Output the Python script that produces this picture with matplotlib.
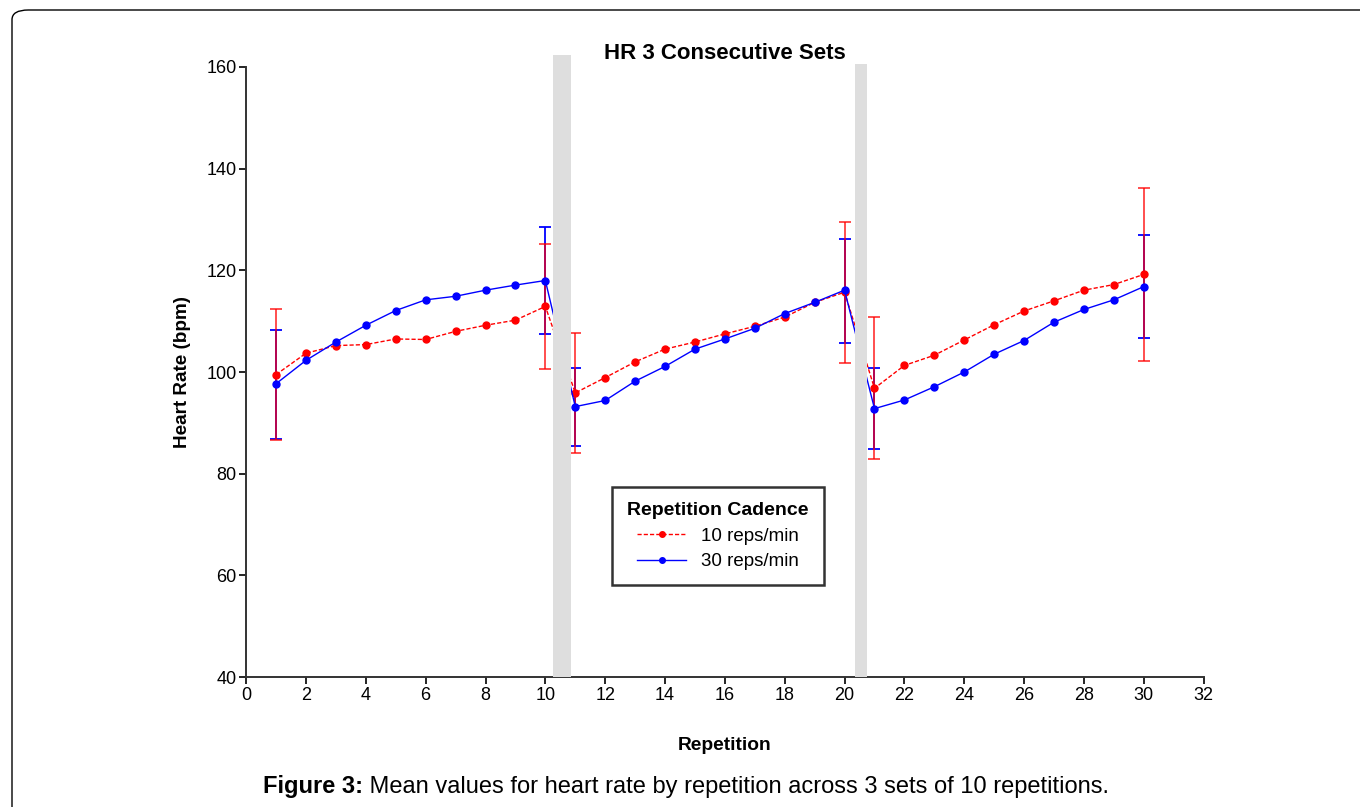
import numpy as np
import matplotlib.pyplot as plt
from matplotlib.patches import FancyBboxPatch

plt.rcParams['font.family'] = ['Liberation Sans', 'DejaVu Sans']

# Data
reps = np.arange(1, 31)
hr_10 = [99.5, 103.7, 105.2, 105.4, 106.5, 106.4, 108.0, 109.2, 110.2, 112.9,
         95.9, 98.9, 102.0, 104.5, 105.9, 107.5, 109.0, 110.8, 113.7, 115.7,
         96.8, 101.3, 103.3, 106.3, 109.3, 112.0, 114.0, 116.1, 117.2, 119.2]
hr_30 = [97.7, 102.3, 105.9, 109.2, 112.1, 114.2, 114.9, 116.1, 117.1, 118.0,
         93.2, 94.4, 98.2, 101.1, 104.5, 106.5, 108.6, 111.5, 113.7, 116.1,
         92.8, 94.5, 97.1, 100.0, 103.5, 106.2, 109.8, 112.3, 114.2, 116.8]

# error bars only at first/last rep of each set
err_x = [1, 10, 11, 20, 21, 30]
err_10_hi = [112.4, 125.1, 107.7, 129.5, 110.8, 136.2]
err_10_lo = [86.6, 100.6, 84.1, 101.8, 82.9, 102.1]
err_30_hi = [108.3, 128.6, 100.8, 126.2, 100.8, 127.0]
err_30_lo = [86.8, 107.5, 85.5, 105.8, 84.8, 106.6]

# rest periods between sets (grey bands)
rest_left = [10.26, 20.35]
rest_right = [10.85, 20.75]
rest_top = [162.4, 160.6]

fig = plt.figure(figsize=(13.6, 8.07), dpi=100)
ax = fig.add_axes([0.181, 0.161, 0.704, 0.756])

# outer rounded frame
frame = FancyBboxPatch((12 / 1360, -0.05), 1.2, 1 - 10 / 807 + 0.05,
                       boxstyle='round,pad=0,rounding_size=0.012',
                       transform=fig.transFigure, fill=False,
                       edgecolor='black', linewidth=1.0)
fig.patches.append(frame)

idx = [x - 1 for x in err_x]

def yerr(vals, hi, lo):
    v = np.array(vals)[idx]
    return [v - np.array(lo), np.array(hi) - v]

ax.errorbar(err_x, np.array(hr_30)[idx], yerr=yerr(hr_30, err_30_hi, err_30_lo),
            fmt='none', ecolor='blue', elinewidth=1.3, capsize=4,
            capthick=1.3, zorder=2)
ax.errorbar(err_x, np.array(hr_10)[idx], yerr=yerr(hr_10, err_10_hi, err_10_lo),
            fmt='none', ecolor='red', elinewidth=1.3, capsize=4,
            capthick=1.3, alpha=0.75, zorder=3)

ax.plot(reps, hr_10, color='red', linestyle=(0, (3, 1.5)), linewidth=1.0,
        marker='o', markersize=5, label='10 reps/min', zorder=4)
ax.plot(reps, hr_30, color='blue', linestyle='-', linewidth=1.0,
        marker='o', markersize=5, label='30 reps/min', zorder=4)

for l, r, t in zip(rest_left, rest_right, rest_top):
    ax.bar(l, t - 40, width=r - l, bottom=40, align='edge',
           color='#dedede', clip_on=False, zorder=5)

ax.set_xlim(0, 32)
ax.set_ylim(40, 160)
ax.set_xticks(np.arange(0, 33, 2))
ax.set_yticks(np.arange(40, 161, 20))
ax.tick_params(direction='out', length=5, width=1.2, labelsize=13,
               colors='black', pad=2)
for s in ['top', 'right']:
    ax.spines[s].set_visible(False)
for s in ['left', 'bottom']:
    ax.spines[s].set_linewidth(1.4)
    ax.spines[s].set_color('#333333')

ax.set_title('HR 3 Consecutive Sets', fontsize=16, fontweight='bold', pad=6)
ax.set_xlabel('Repetition', fontsize=13.8, fontweight='bold', labelpad=24)
ax.set_ylabel('Heart Rate (bpm)', fontsize=13.6, fontweight='bold', labelpad=11)

leg = ax.legend(title='Repetition Cadence', loc='center',
                bbox_to_anchor=(0.493, 0.231), fontsize=13.5,
                title_fontproperties={'weight': 'bold', 'size': 14},
                frameon=True, fancybox=False, edgecolor='black',
                handlelength=2.6, borderpad=0.8, labelspacing=0.45)
leg.get_frame().set_linewidth(1.8)
for h in leg.legend_handles:
    h.set_markersize(4)

# caption: bold prefix then normal text
fig.canvas.draw()
renderer = fig.canvas.get_renderer()
cap_x = 263 / 1360
cap_y = 1 - 787 / 807
t1 = fig.text(cap_x, cap_y, 'Figure 3:', fontsize=17, fontweight='bold',
              ha='left', va='center')
bb = t1.get_window_extent(renderer=renderer)
x2 = bb.x1 / fig.bbox.width
fig.text(x2, cap_y, ' Mean values for heart rate by repetition across 3 sets of 10 repetitions.',
         fontsize=17, ha='left', va='center')

fig.savefig('out.png', dpi=100)
